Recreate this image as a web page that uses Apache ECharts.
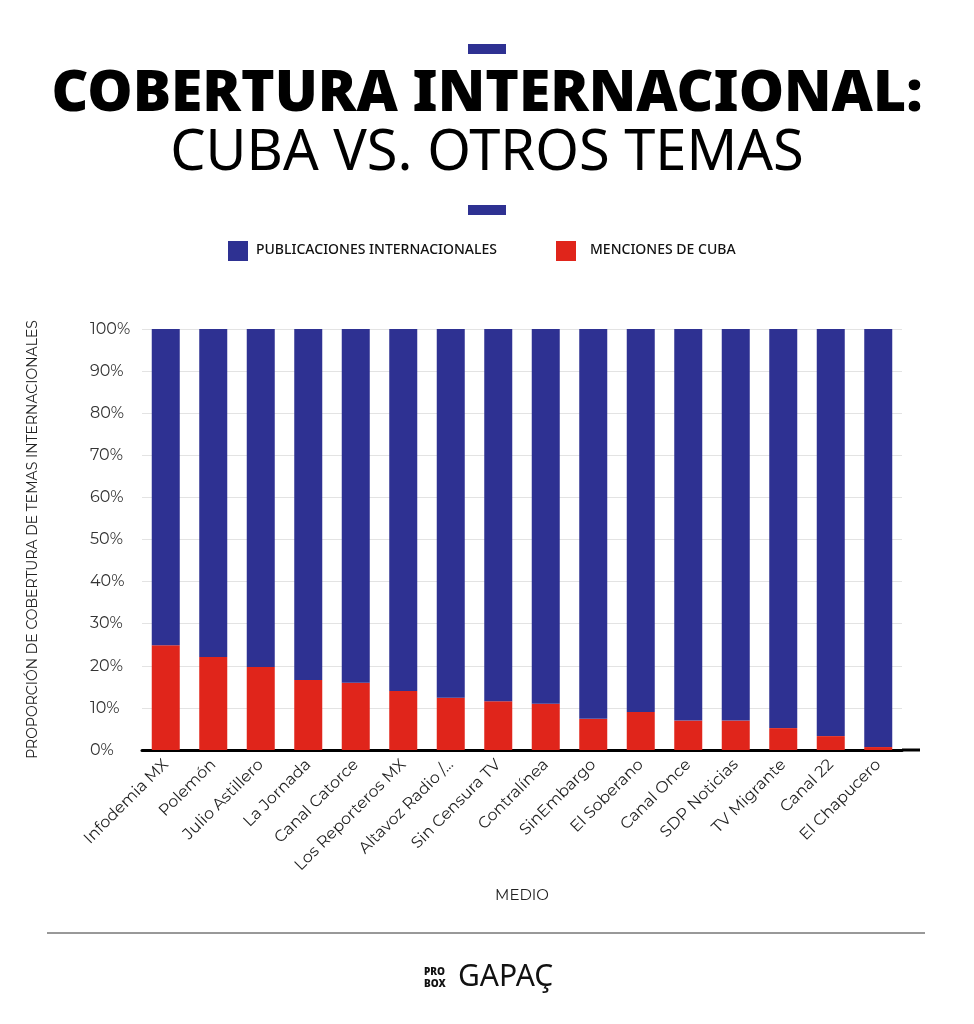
<!DOCTYPE html>
<html><head><meta charset="utf-8">
<script src="https://cdn.jsdelivr.net/npm/echarts@6/dist/echarts.min.js"></script>
<style>html,body{margin:0;background:#fff}#Root{width:974px;height:1024px}</style>
</head><body><div id="Root"></div>
<script>
const medios = ["Infodemia MX","Polemón","Julio Astillero","La Jornada","Canal Catorce","Los Reporteros MX","Altavoz Radio /...","Sin Censura TV","Contralínea","SinEmbargo","El Soberano","Canal Once","SDP Noticias","TV Migrante","Canal 22","El Chapucero"]
const cuba = [24.9,22.1,19.7,16.6,16.0,14.0,12.4,11.6,11.0,7.4,9.0,7.0,7.0,5.2,3.3,0.7]
const internacional = cuba.map(v => +(100 - v).toFixed(1))
const yTicks = [0,10,20,30,40,50,60,70,80,90,100]

let chart = echarts.init(document.getElementById("Root"))
let font = "Montserrat, 'Noto Sans', sans-serif"
chart.setOption({
    animation: false,
    textStyle: { fontFamily: font },
    graphic: [
        { type: 'rect', shape: { x: 468, y: 44, width: 38, height: 10 }, style: { fill: '#2e3192' } },
        { type: 'rect', shape: { x: 468, y: 205, width: 38, height: 10 }, style: { fill: '#2e3192' } },
        { type: 'text', left: 'center', top: 66, style: { text: 'COBERTURA INTERNACIONAL:', font: '900 57px "Noto Sans", sans-serif', fill: '#000' } },
        { type: 'text', left: 'center', top: 126, style: { text: 'CUBA VS. OTROS TEMAS', font: '400 56px "Noto Sans", sans-serif', fill: '#000' } },
        { type: 'rect', shape: { x: 228, y: 241, width: 20, height: 20 }, style: { fill: '#2e3192' } },
        { type: 'text', left: 256, top: 243, style: { text: 'PUBLICACIONES INTERNACIONALES', font: '500 14px "Noto Sans", sans-serif', fill: '#111' } },
        { type: 'rect', shape: { x: 556, y: 241, width: 20, height: 20 }, style: { fill: '#e0251b' } },
        { type: 'text', left: 590, top: 243, style: { text: 'MENCIONES DE CUBA', font: '500 14px "Noto Sans", sans-serif', fill: '#111' } },
        { type: 'line', shape: { x1: 47, y1: 933, x2: 925, y2: 933 }, style: { stroke: '#333', lineWidth: 1 } },
        { type: 'line', shape: { x1: 902, y1: 750, x2: 920, y2: 750 }, style: { stroke: '#000', lineWidth: 3 } },
        { type: 'text', left: 424, top: 966, style: { text: 'PRO\nBOX', font: '900 10px "Noto Sans", sans-serif', fill: '#111', lineHeight: 12 } },
        { type: 'text', left: 458, top: 962, style: { text: 'GAPAÇ', font: '400 30px "Noto Sans", sans-serif', fill: '#111' } }
    ],
    grid: { left: 142, right: 72, top: 329, bottom: 274 },
    xAxis: {
        type: 'category', data: medios, name: 'MEDIO', nameLocation: 'middle', nameGap: 138,
        nameTextStyle: { fontSize: 15, color: '#222', fontFamily: font },
        axisLine: { lineStyle: { color: '#000', width: 3 } }, axisTick: { show: false },
        axisLabel: { rotate: 45, fontSize: 16, color: '#222', interval: 0, margin: 12 }
    },
    yAxis: {
        type: 'value', min: 0, max: 100, interval: 10,
        name: 'PROPORCIÓN DE COBERTURA DE TEMAS INTERNACIONALES', nameLocation: 'middle', nameGap: 102,
        nameTextStyle: { fontSize: 14, color: '#222', fontFamily: font },
        axisLabel: { formatter: v => yTicks.includes(v) ? v + '%' : '', fontSize: 16, color: '#333', align: 'left', margin: 52 },
        splitLine: { lineStyle: { color: '#e3e3e3' } }
    },
    series: [
        { name: 'MENCIONES DE CUBA', type: 'bar', stack: 't', data: cuba, barWidth: 28, itemStyle: { color: '#e0251b' } },
        { name: 'PUBLICACIONES INTERNACIONALES', type: 'bar', stack: 't', data: internacional, itemStyle: { color: '#2e3192' } }
    ]
})
</script></body></html>
